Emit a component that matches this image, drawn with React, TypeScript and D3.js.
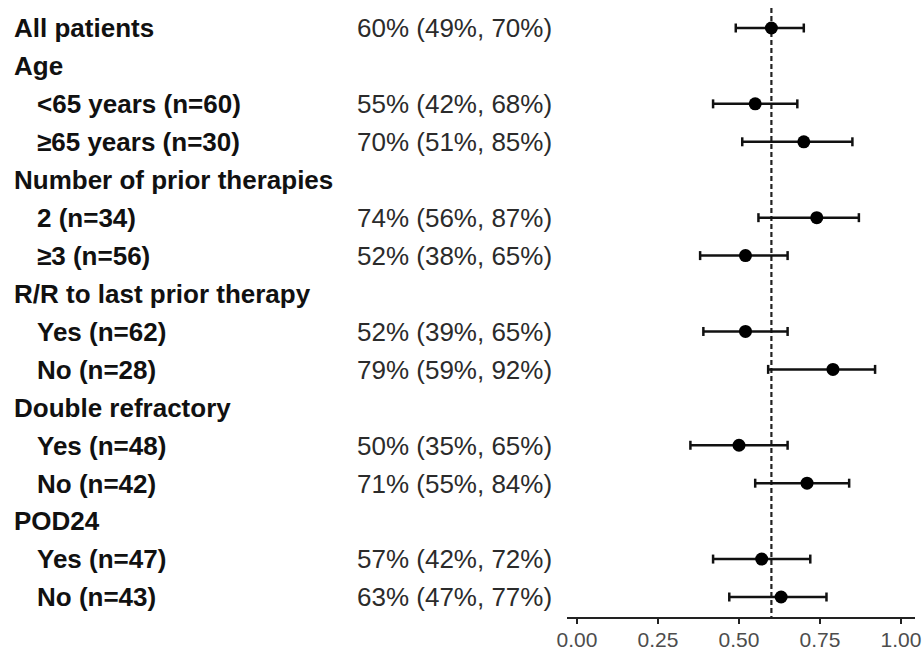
import React, { useEffect, useRef } from 'react';
import * as d3 from 'd3';

// rows top to bottom; null = header row without estimate
const labels = [
  'All patients', 'Age', '<65 years (n=60)', '≥65 years (n=30)',
  'Number of prior therapies', '2 (n=34)', '≥3 (n=56)',
  'R/R to last prior therapy', 'Yes (n=62)', 'No (n=28)',
  'Double refractory', 'Yes (n=48)', 'No (n=42)',
  'POD24', 'Yes (n=47)', 'No (n=43)',
];
const indented = [false, false, true, true, false, true, true, false, true, true, false, true, true, false, true, true];
const estimates = [0.60, null, 0.55, 0.70, null, 0.74, 0.52, null, 0.52, 0.79, null, 0.50, 0.71, null, 0.57, 0.63];
const lowers = [0.49, null, 0.42, 0.51, null, 0.56, 0.38, null, 0.39, 0.59, null, 0.35, 0.55, null, 0.42, 0.47];
const uppers = [0.70, null, 0.68, 0.85, null, 0.87, 0.65, null, 0.65, 0.92, null, 0.65, 0.84, null, 0.72, 0.77];
const xTicks = [0, 0.25, 0.5, 0.75, 1];
const refLine = 0.6;

const W = 924;
const H = 651;
const FONT = 'Liberation Sans, Arial, sans-serif';
const pct = (v: number) => `${Math.round(v * 100)}%`;

export default function App() {
  const svgRef = useRef<SVGSVGElement>(null);

  useEffect(() => {
    if (!svgRef.current) return;
    const svg = d3.select(svgRef.current);
    svg.selectAll('*').remove();

    const x = d3.scaleLinear().domain([0, 1]).range([577, 901]);
    const y = d3.scalePoint<number>().domain(d3.range(labels.length)).range([28, 597]);
    const axisY = 618;

    svg.append('rect').attr('width', W).attr('height', H).attr('fill', '#fff');

    // left labels
    svg.append('g')
      .selectAll('text')
      .data(labels)
      .join('text')
      .attr('x', (_, i) => (indented[i] ? 37 : 14))
      .attr('y', (_, i) => y(i)!)
      .attr('dy', '0.36em')
      .attr('font-family', FONT)
      .attr('font-weight', 700)
      .attr('font-size', 26)
      .attr('fill', '#111')
      .text(d => d);

    const rows = d3.range(labels.length).filter(i => estimates[i] != null);

    // estimate (CI) text
    svg.append('g')
      .selectAll('text')
      .data(rows)
      .join('text')
      .attr('x', 357)
      .attr('y', i => y(i)!)
      .attr('dy', '0.36em')
      .attr('font-family', FONT)
      .attr('font-size', 26)
      .attr('fill', '#2b2b2b')
      .text(i => `${pct(estimates[i]!)} (${pct(lowers[i]!)}, ${pct(uppers[i]!)})`);

    // reference line
    svg.append('line')
      .attr('x1', x(refLine)).attr('x2', x(refLine))
      .attr('y1', 8).attr('y2', axisY)
      .attr('stroke', '#222')
      .attr('stroke-width', 2.2)
      .attr('stroke-dasharray', '5,3');

    // error bars
    const bars = svg.append('g').selectAll('g').data(rows).join('g')
      .attr('transform', i => `translate(0,${y(i)})`);
    bars.append('line')
      .attr('x1', i => x(lowers[i]!)).attr('x2', i => x(uppers[i]!))
      .attr('stroke', '#111').attr('stroke-width', 2.5);
    bars.append('line')
      .attr('x1', i => x(lowers[i]!)).attr('x2', i => x(lowers[i]!))
      .attr('y1', -4.5).attr('y2', 4.5)
      .attr('stroke', '#111').attr('stroke-width', 2.5);
    bars.append('line')
      .attr('x1', i => x(uppers[i]!)).attr('x2', i => x(uppers[i]!))
      .attr('y1', -4.5).attr('y2', 4.5)
      .attr('stroke', '#111').attr('stroke-width', 2.5);
    bars.append('circle')
      .attr('cx', i => x(estimates[i]!))
      .attr('r', 6.5)
      .attr('fill', '#000');

    // x axis
    const axis = svg.append('g').attr('transform', `translate(0,${axisY})`);
    axis.append('line')
      .attr('x1', 567).attr('x2', 915)
      .attr('stroke', '#222').attr('stroke-width', 2);
    const ticks = axis.selectAll('g.tick').data(xTicks).join('g')
      .attr('class', 'tick')
      .attr('transform', d => `translate(${x(d)},0)`);
    ticks.append('line').attr('y1', 0).attr('y2', 6)
      .attr('stroke', '#222').attr('stroke-width', 2);
    ticks.append('text')
      .attr('y', 14)
      .attr('dy', '0.71em')
      .attr('text-anchor', 'middle')
      .attr('font-family', FONT)
      .attr('font-size', 21)
      .attr('fill', '#4d4d4d')
      .text(d => d3.format('.2f')(d));
  }, []);

  return (
    <div style={{ position: 'absolute', left: 0, top: 0 }}>
      <svg ref={svgRef} width={W} height={H} style={{ display: 'block' }}></svg>
    </div>
  );
}
